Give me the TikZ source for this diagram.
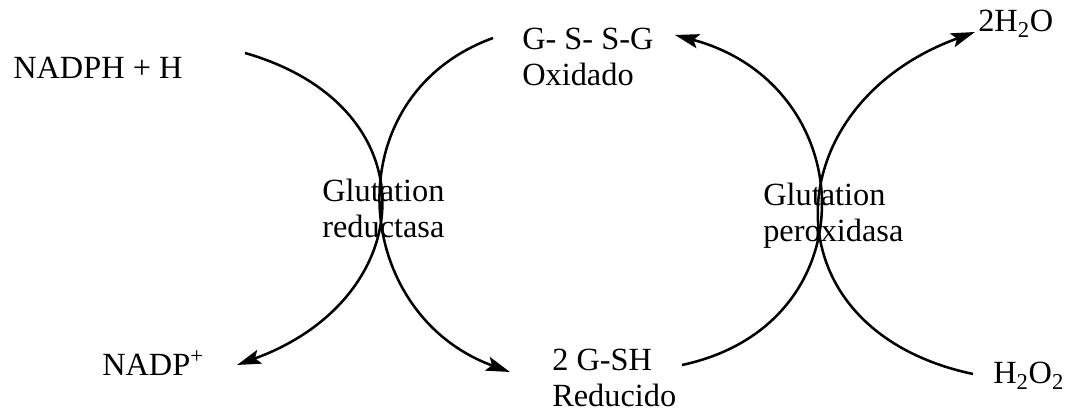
\documentclass[tikz,border=0pt]{standalone}
\usepackage{fontspec}
\setmainfont{Liberation Serif}
\usetikzlibrary{arrows.meta,positioning}

\begin{document}
\begin{tikzpicture}[
x=0.025cm, y=0.025cm,
Species/.style={anchor=base west,inner sep=0pt,align=left,font=\fontsize{23}{26.3}\selectfont},
Reaction/.style={line width=1.8pt,-{Stealth[length=6mm,width=3.6mm,inset=1.2mm]}}
]
\useasboundingbox (0,0) rectangle (1067,412);

% substrates and products (two-line nodes sit on their last line)
\node[Species] (nadph) at (13,333) {NADPH + H};
\node[Species] (nadp) at (102,36) {NADP\textsuperscript{+}};
\node[Species] (gssg) at (522,326) {G- S- S-G\\Oxidado};
\node[Species] (gsh) at (552,5) {2 G-SH\\Reducido};
\node[Species] (agua) at (978,380) {2H\textsubscript{2}O};
\node[Species] (perox) at (993,28) {H\textsubscript{2}O\textsubscript{2}};

% enzymes
\node[Species] (gr) at (322,174) {Glutation\\reductasa};
\node[Species] (gpx) at (763,170) {Glutation\\peroxidasa};

% ends of the arcs
\coordinate (Ra) at (245,359);
\coordinate (Rb) at (237,47);
\coordinate (Rc) at (493,374);
\coordinate (Rd) at (510,40);
\coordinate (Pa) at (682,47);
\coordinate (Pb) at (675,377);
\coordinate (Pc) at (973,38);
\coordinate (Pd) at (975,380);

\draw[Reaction] (Ra) to[out=-16,in=20,looseness=1.6] (Rb);
\draw[Reaction] (Rc) to[out=200,in=160,looseness=1.3] (Rd);

\draw[Reaction] (Pa) to[out=12,in=-15,looseness=1.5] (Pb);
\draw[Reaction] (Pc) to[out=168,in=200,looseness=1.6] (Pd);

\end{tikzpicture}
\end{document}
